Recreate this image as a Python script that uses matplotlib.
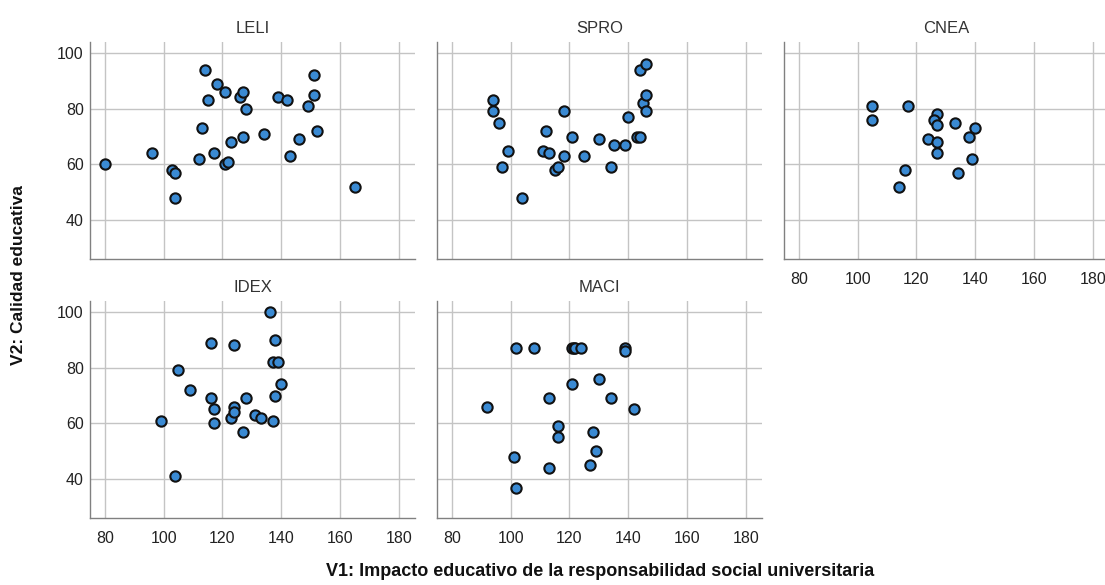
import matplotlib
matplotlib.use("Agg")
import matplotlib.pyplot as plt

plt.rcParams['font.family'] = ['Liberation Sans', 'DejaVu Sans']

panels = ["LELI", "SPRO", "CNEA", "IDEX", "MACI"]

leli_x = [80, 96, 103, 104, 104, 112, 113, 114, 115, 117, 118, 121, 121, 122, 123, 126, 127, 127, 128, 134, 139, 142, 143, 146, 149, 151, 151, 152, 165]
leli_y = [60, 64, 58, 57, 48, 62, 73, 94, 83, 64, 89, 86, 60, 61, 68, 84, 86, 70, 80, 71, 84, 83, 63, 69, 81, 92, 85, 72, 52]

spro_x = [94, 94, 96, 99, 97, 104, 112, 111, 113, 115, 116, 118, 118, 121, 125, 130, 134, 135, 139, 140, 143, 144, 144, 146, 145, 146, 146]
spro_y = [83, 79, 75, 65, 59, 48, 72, 65, 64, 58, 59, 63, 79, 70, 63, 69, 59, 67, 67, 77, 70, 70, 94, 96, 82, 85, 79]

cnea_x = [105, 105, 117, 127, 126, 127, 133, 140, 138, 124, 127, 127, 139, 116, 134, 114]
cnea_y = [81, 76, 81, 78, 76, 74, 75, 73, 70, 69, 68, 64, 62, 58, 57, 52]

idex_x = [99, 104, 105, 109, 116, 116, 117, 117, 123, 124, 124, 124, 127, 128, 131, 133, 137, 136, 138, 137, 139, 140, 138]
idex_y = [61, 41, 79, 72, 89, 69, 65, 60, 62, 66, 64, 88, 57, 69, 63, 62, 61, 100, 90, 82, 82, 74, 70]

maci_x = [102, 108, 121, 121.5, 122, 124, 139, 139, 130, 121, 113, 134, 92, 142, 116, 116, 128, 129, 101, 113, 127, 102]
maci_y = [87, 87, 87, 87, 87, 87, 87, 86, 76, 74, 69, 69, 66, 65, 59, 55, 57, 50, 48, 44, 45, 37]

data = {"LELI": (leli_x, leli_y), "SPRO": (spro_x, spro_y), "CNEA": (cnea_x, cnea_y),
        "IDEX": (idex_x, idex_y), "MACI": (maci_x, maci_y)}

x_ticks = [80, 100, 120, 140, 160, 180]
y_ticks = [40, 60, 80, 100]

W, H = 1105, 585
fig = plt.figure(figsize=(W / 100, H / 100), dpi=100)

lefts = [90, 437, 784]
width = 325
row_bottoms = [259.3, 518.3]
height = 217.6

positions = {"LELI": (0, 0), "SPRO": (0, 1), "CNEA": (0, 2), "IDEX": (1, 0), "MACI": (1, 1)}

for name in panels:
    r, c = positions[name]
    l = lefts[c] / W
    b = (H - row_bottoms[r]) / H
    ax = fig.add_axes([l, b, width / W, height / H])
    xs, ys = data[name]
    ax.scatter(xs, ys, s=55, facecolor='#3a8ad3', edgecolor='#111111', linewidths=1.5, zorder=3)
    ax.set_xlim(75, 185.4)
    ax.set_ylim(26, 104)
    ax.set_xticks(x_ticks)
    ax.set_yticks(y_ticks)
    ax.grid(True, color='#c4c4c4', linewidth=1.0, zorder=0)
    ax.set_axisbelow(True)
    for s in ['top', 'right']:
        ax.spines[s].set_visible(False)
    for s in ['left', 'bottom']:
        ax.spines[s].set_color('#808080')
        ax.spines[s].set_linewidth(1.0)
    show_x = name in ("IDEX", "MACI", "CNEA")
    show_y = c == 0
    ax.tick_params(axis='both', length=0, labelsize=11.5, colors='#222222')
    ax.tick_params(axis='x', pad=9, labelbottom=show_x)
    ax.tick_params(axis='y', pad=4.5, labelleft=show_y)
    ax.set_title(name, fontsize=12, color='#333333', pad=6)

fig.text(19 / W, (H - 275) / H, "V2: Calidad educativa", rotation=90, ha='center', va='center',
         fontsize=12.5, fontweight='bold', color='#111111')
fig.text(600 / W, (H - 572) / H, "V1: Impacto educativo de la responsabilidad social universitaria",
         ha='center', va='center', fontsize=13, fontweight='bold', color='#111111')

fig.savefig("out.png", dpi=100)
